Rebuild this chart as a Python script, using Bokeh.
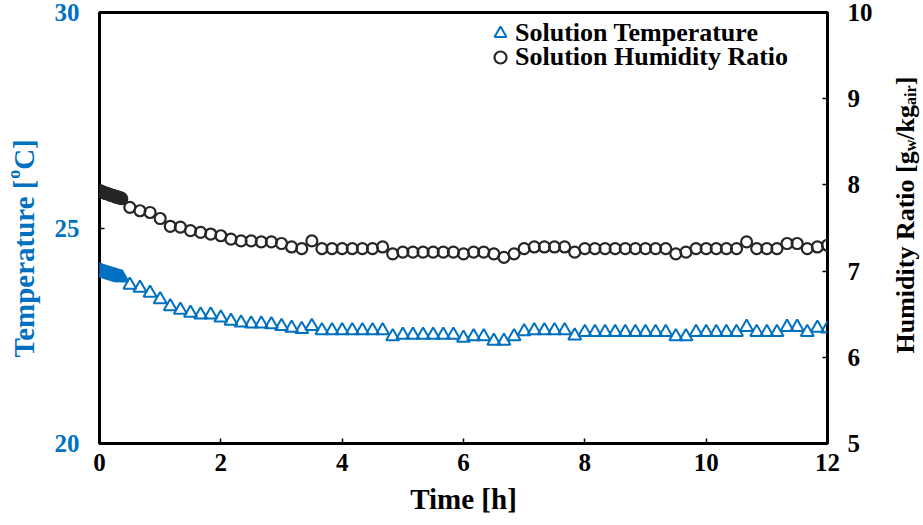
import math

from bokeh.core.properties import value
from bokeh.embed import file_html
from bokeh.layouts import row
from bokeh.models import (ColumnDataSource, FixedTicker, Legend, LegendItem,
                          LinearAxis, Range1d)
from bokeh.plotting import figure
from bokeh.resources import INLINE

# ---------------------------------------------------------------------------
# Data: solution temperature [degC] and humidity ratio [g_w/kg_air] over 12 h
# ---------------------------------------------------------------------------
# sample times in minutes: 1-min logging at start-up, then every 10 min
startup_minutes = list(range(0, 23))
logged_minutes = list(range(30, 721, 10))

startup_temperature = [24.02, 24.00, 24.00, 23.98, 23.98, 23.97, 23.96, 23.95,
                       23.95, 23.94, 23.93, 23.92, 23.92, 23.91, 23.90, 23.90,
                       23.89, 23.88, 23.87, 23.87, 23.86, 23.85, 23.85]
startup_humidity = [7.93, 7.93, 7.92, 7.92, 7.91, 7.91, 7.90, 7.90, 7.90, 7.89,
                    7.89, 7.88, 7.88, 7.88, 7.87, 7.87, 7.86, 7.86, 7.86, 7.85,
                    7.85, 7.85, 7.84]

logged_temperature = [23.68, 23.61, 23.49, 23.34, 23.18, 23.10, 23.03, 22.99,
                      22.99, 22.92, 22.84, 22.80, 22.78, 22.78, 22.76, 22.72,
                      22.68, 22.65, 22.72, 22.62, 22.62, 22.62, 22.62, 22.62,
                      22.62, 22.62, 22.48, 22.52, 22.52, 22.52, 22.52, 22.52,
                      22.52, 22.45, 22.48, 22.48, 22.38, 22.38, 22.48, 22.60,
                      22.62, 22.62, 22.62, 22.62, 22.50, 22.58, 22.58, 22.58,
                      22.58, 22.58, 22.58, 22.58, 22.58, 22.58, 22.48, 22.48,
                      22.58, 22.58, 22.58, 22.58, 22.58, 22.70, 22.58, 22.58,
                      22.58, 22.70, 22.70, 22.58, 22.68, 22.66]
logged_humidity = [7.74, 7.70, 7.68, 7.61, 7.52, 7.51, 7.47, 7.45, 7.43, 7.41,
                   7.37, 7.35, 7.35, 7.34, 7.34, 7.32, 7.28, 7.26, 7.35, 7.26,
                   7.26, 7.26, 7.26, 7.26, 7.26, 7.28, 7.20, 7.22, 7.22, 7.22,
                   7.22, 7.22, 7.22, 7.20, 7.22, 7.22, 7.20, 7.16, 7.20, 7.26,
                   7.28, 7.28, 7.28, 7.28, 7.22, 7.26, 7.26, 7.26, 7.26, 7.26,
                   7.26, 7.26, 7.26, 7.26, 7.20, 7.22, 7.26, 7.26, 7.26, 7.26,
                   7.26, 7.34, 7.26, 7.26, 7.26, 7.32, 7.32, 7.26, 7.28, 7.30]

x_ticks = [0, 2, 4, 6, 8, 10, 12]
temp_ticks = [20, 25, 30]
humidity_ticks = [5, 6, 7, 8, 9, 10]

time_h = [m / 60 for m in startup_minutes + logged_minutes]
source = ColumnDataSource(dict(
    t=time_h,
    temp=startup_temperature + logged_temperature,
    hr=startup_humidity + logged_humidity,
))

# ---------------------------------------------------------------------------
# Layout constants (pixels)
# ---------------------------------------------------------------------------
FONT = "Liberation Serif"
BLUE = "#0070C0"
DARK = "#262626"
H = 525
LEFT_STRIP, RIGHT_STRIP = 48, 38          # strips holding the y-axis titles
MAIN_W = 923 - LEFT_STRIP - RIGHT_STRIP
TOP, BOTTOM = 12, 82

# ---------------------------------------------------------------------------
# Main chart
# ---------------------------------------------------------------------------
p = figure(width=MAIN_W, height=H, output_backend="svg", toolbar_location=None,
           x_range=Range1d(0, 12), y_range=Range1d(20, 30),
           min_border_left=99 - LEFT_STRIP, min_border_right=885 - 827,
           min_border_top=TOP, min_border_bottom=BOTTOM)
p.extra_y_ranges = {"hr": Range1d(5, 10)}
p.grid.visible = False
p.outline_line_color = "black"
p.outline_line_width = 3
p.background_fill_color = "white"
p.border_fill_color = "white"

right_axis = LinearAxis(y_range_name="hr")
p.add_layout(right_axis, "right")

p.xaxis.ticker = FixedTicker(ticks=x_ticks)
p.yaxis[0].ticker = FixedTicker(ticks=temp_ticks)
right_axis.ticker = FixedTicker(ticks=humidity_ticks)

for ax in (p.xaxis[0], p.yaxis[0], right_axis):
    ax.axis_line_color = None
    ax.major_tick_in = 5
    ax.major_tick_out = 0
    ax.major_tick_line_width = 1.5
    ax.major_tick_line_color = "black"
    ax.minor_tick_line_color = None
    ax.major_label_text_font = FONT
    ax.major_label_text_font_style = "bold"
    ax.major_label_text_font_size = "25px"
    ax.major_label_text_color = "black"

p.xaxis.major_label_standoff = 10
p.yaxis[0].major_label_standoff = 20
p.yaxis[0].major_label_text_color = BLUE
right_axis.major_label_standoff = 20

p.xaxis.axis_label = "Time [h]"
p.xaxis.axis_label_text_font = FONT
p.xaxis.axis_label_text_font_style = "bold"
p.xaxis.axis_label_text_font_size = "29px"
p.xaxis.axis_label_text_color = "black"
p.xaxis.axis_label_standoff = 9

# ---------------------------------------------------------------------------
# Series
# ---------------------------------------------------------------------------
tri = p.scatter("t", "temp", source=source, marker="triangle", size=13,
                fill_color=None, line_color=BLUE, line_width=2)
cir = p.scatter("t", "hr", source=source, y_range_name="hr", marker="circle",
                size=11, fill_color=None, line_color=DARK, line_width=2.2)

# one legend box per entry so the rows can sit closer than the key boxes
legend_rows = [("Solution Temperature", tri, 395),
               ("Solution Humidity Ratio", cir, 371)]
for label, renderer, bottom in legend_rows:
    p.add_layout(Legend(
        items=[LegendItem(label=label, renderers=[renderer])],
        location=(386, bottom), glyph_width=30, glyph_height=30,
        label_standoff=0, padding=0, margin=0, border_line_color=None,
        background_fill_alpha=0, label_text_font=FONT,
        label_text_font_style="bold", label_text_font_size="26px",
        label_text_color="black",
    ))

# ---------------------------------------------------------------------------
# Strips with the rotated y-axis titles (super/subscripts as separate runs)
# ---------------------------------------------------------------------------
# advance widths of the bold serif face, per 1000 em
ADV = {' ': 250, '[': 333, ']': 333, '/': 278, 'T': 667, 'e': 444, 'm': 833,
       'p': 556, 'r': 444, 'a': 500, 't': 333, 'u': 556, 'o': 500, 'C': 722,
       'H': 778, 'i': 278, 'd': 556, 'y': 500, 'R': 722, 'g': 500, 'w': 722,
       'k': 556, 'h': 556}


def text_width(s, size):
    return sum(ADV[c] for c in s) / 1000 * size


def title_strip(width, parts, base_x, start_y, size, color):
    """A bare figure whose data units are canvas pixels (y down).

    Its frame lines up with the main frame (rows align frames), so the
    y range spans the same canvas rows.  parts: (text, scale, shift, kern)
    with shift > 0 raising the run and kern pulling it closer (px).
    """
    f = figure(width=width, height=H, output_backend="svg",
               toolbar_location=None, x_range=Range1d(0, width),
               y_range=Range1d(H - BOTTOM, TOP), x_axis_location=None,
               y_axis_location=None, min_border_left=0, min_border_right=0,
               min_border_top=TOP, min_border_bottom=BOTTOM)
    f.grid.visible = False
    f.outline_line_color = None
    f.background_fill_color = "white"
    f.border_fill_color = "white"
    y = start_y
    for text, scale, shift, kern in parts:
        fs = size * scale
        y += kern
        f.text(x=[base_x - shift], y=[y], text=[text], angle=math.pi / 2,
               text_align="left", text_baseline="alphabetic",
               text_font=value(FONT), text_font_style="bold",
               text_font_size=value(f"{fs:.1f}px"), text_color=color)
        y -= text_width(text, fs)
    return f


left_strip = title_strip(
    LEFT_STRIP,
    [("Temperature [", 1.0, 0, 0), ("o", 0.62, 10, 2.5), ("C]", 1.0, 0, 0)],
    base_x=23, start_y=357, size=29, color=BLUE)
right_strip = title_strip(
    RIGHT_STRIP,
    [("Humidity Ratio [g", 1.0, 0, 0), ("w", 0.62, -5, 0),
     ("/kg", 1.0, 0, 0), ("air", 0.62, -5, 0), ("]", 1.0, 0, 0)],
    base_x=20, start_y=353, size=26, color="black")

layout = row(left_strip, p, right_strip, spacing=0)

open("out.html", "w").write(file_html(layout, INLINE))
